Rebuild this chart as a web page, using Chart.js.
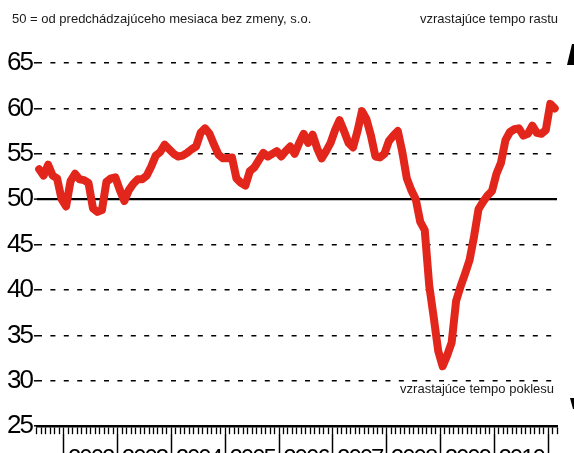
<!DOCTYPE html>
<html>
<head>
<meta charset="utf-8">
<script src="https://cdn.jsdelivr.net/npm/chart.js@4"></script>
<style>
    html, body { margin: 0; padding: 0; background: #fff; overflow: hidden; }
    #wrap { position: relative; width: 574px; height: 453px; overflow: hidden; }
    #pmiChart { position: absolute; left: 0; top: 0; }
    .note { position: absolute; font: 13px 'Liberation Sans', Arial, sans-serif; color: #1a1a1a; white-space: nowrap; line-height: 1; }
</style>
</head>
<body>
<div id="wrap">
    <canvas id="pmiChart" width="574" height="461"></canvas>
    <div class="note" style="left:12px; top:12px">50 = od predchádzajúceho mesiaca bez zmeny, s.o.</div>
    <div class="note" style="right:16px; top:12px">vzrastajúce tempo rastu</div>
    <div class="note" style="right:20px; top:382px">vzrastajúce tempo poklesu</div>
</div>
<script>
// Datos del gráfico (mensual, jul 2001 - feb 2011)
const firstYear = 2001;
const firstMonth = 7;
const pmiValues = [
    53.3, 52.6, 53.8, 52.6, 52.3, 50.0,                                     // 2001
    49.2, 52.0, 52.8, 52.2, 52.1, 51.8, 49.0, 48.6, 48.8, 51.9, 52.3, 52.4, // 2002
    51.0, 49.8, 51.0, 51.7, 52.2, 52.2, 52.6, 53.6, 54.8, 55.2, 56.0, 55.5, // 2003
    55.0, 54.7, 54.8, 55.1, 55.5, 55.8, 57.3, 57.8, 57.2, 56.0, 54.9, 54.5, // 2004
    54.5, 54.6, 52.3, 51.8, 51.5, 53.1, 53.5, 54.3, 55.1, 54.7, 55.0, 55.3, // 2005
    54.7, 55.3, 55.8, 55.0, 56.2, 57.2, 56.2, 57.1, 55.6, 54.5, 55.3, 56.2, // 2006
    57.6, 58.7, 57.5, 56.2, 55.7, 57.5, 59.7, 58.8, 57.0, 54.7, 54.6, 55.0, // 2007
    56.4, 57.0, 57.5, 55.2, 52.3, 51.0, 50.0, 47.5, 46.6, 40.5, 37.0, 33.3, // 2008
    31.6, 32.8, 34.2, 38.8, 40.4, 41.8, 43.3, 45.9, 48.9, 49.7, 50.4, 50.9, // 2009
    52.8, 54.0, 56.5, 57.4, 57.7, 57.8, 57.0, 57.2, 58.1, 57.3, 57.2, 57.6, // 2010
    60.5, 60.0                                                              // 2011
];
const yearLabels = ['2002', '2003', '2004', '2005', '2006', '2007', '2008', '2009', '2010'];
const neutralLevel = 50;
const yMin = 25, yMax = 65, yStep = 5;

// Etiquetas mensuales "AAAA-MM"
const monthLabels = pmiValues.map((v, i) => {
    const m = firstMonth - 1 + i;
    return `${firstYear + Math.floor(m / 12)}-${String(m % 12 + 1).padStart(2, '0')}`;
});
// Centro de cada año (en meses) para las etiquetas del eje inferior
const yearCenters = yearLabels.map(y => monthLabels.indexOf(y + '-01') + 6);

const numFont = "'Liberation Sans', Arial, sans-serif";

// Números estrechos como en el original
const narrowDigits = {
    id: 'narrowDigits',
    beforeUpdate(chart) { chart.ctx.letterSpacing = '-2px'; },
    beforeDraw(chart) { chart.ctx.letterSpacing = '-2px'; }
};

// Flechas recortadas del borde derecho
const edgeArrows = {
    id: 'edgeArrows',
    afterDraw(chart) {
        const ctx = chart.ctx;
        ctx.save();
        ctx.fillStyle = '#000';
        ctx.beginPath();
        ctx.moveTo(567, 65); ctx.lineTo(572, 44); ctx.lineTo(574, 44); ctx.lineTo(574, 65);
        ctx.closePath(); ctx.fill();
        ctx.beginPath();
        ctx.moveTo(570, 398); ctx.lineTo(574, 398); ctx.lineTo(574, 409); ctx.lineTo(573, 409);
        ctx.closePath(); ctx.fill();
        ctx.restore();
    }
};

new Chart(document.getElementById('pmiChart').getContext('2d'), {
    type: 'line',
    data: {
        labels: monthLabels,
        datasets: [{
            data: pmiValues,
            borderColor: '#e3261c',
            borderWidth: 8,
            borderJoinStyle: 'round',
            borderCapStyle: 'round',
            pointRadius: 0,
            tension: 0,
            clip: false,
            xAxisID: 'x',
            yAxisID: 'y'
        }]
    },
    options: {
        responsive: false,
        devicePixelRatio: 1,
        animation: false,
        layout: { padding: { left: 5, right: 17, top: 63, bottom: 0 } },
        plugins: { legend: { display: false }, tooltip: { enabled: false } },
        scales: {
            y: {
                min: yMin, max: yMax,
                ticks: { stepSize: yStep, color: '#000', padding: 2, font: { family: numFont, size: 26 } },
                grid: {
                    color: '#000',
                    lineWidth: c => c.tick && c.tick.value === neutralLevel ? 2.2 : 1.6,
                    tickLength: 3,
                    tickWidth: 1.5
                },
                border: {
                    display: false,
                    dash: c => c.tick && (c.tick.value === neutralLevel || c.tick.value === yMin) ? [] : [5, 8.4]
                }
            },
            x: {
                type: 'category',
                offset: true,
                weight: 0,
                ticks: { display: false },
                grid: { offset: true, drawOnChartArea: false, color: '#000', tickLength: 8, tickWidth: 1.3 },
                border: { display: true, color: '#000', width: 2.5 }
            },
            x2: {
                type: 'linear',
                position: 'bottom',
                weight: 1,
                min: 0,
                max: pmiValues.length,
                afterBuildTicks: scale => { scale.ticks = yearCenters.map(v => ({ value: v })); },
                ticks: {
                    autoSkip: false, maxRotation: 0, color: '#000', padding: -13,
                    font: { family: numFont, size: 24 },
                    callback: (value, index) => yearLabels[index]
                },
                grid: { offset: true, drawOnChartArea: false, color: '#000', tickLength: 24, tickWidth: 1.5 },
                border: { display: false }
            }
        }
    },
    plugins: [narrowDigits, edgeArrows]
});
</script>
</body>
</html>
